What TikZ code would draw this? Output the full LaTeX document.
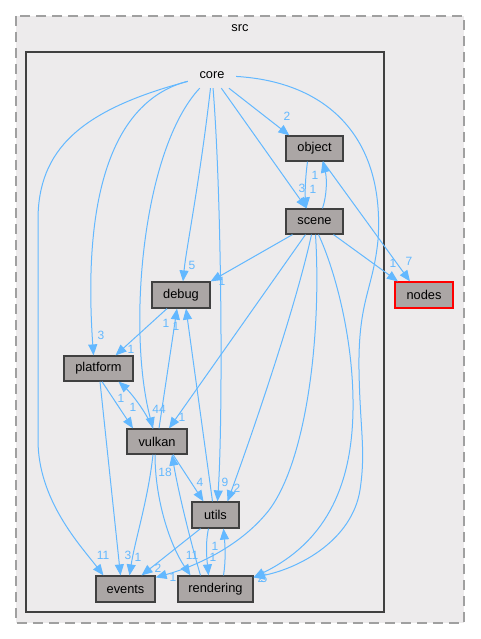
\documentclass[tikz,border=0pt]{standalone}
\usepackage{fontspec}
\setmainfont{Liberation Sans}
\usetikzlibrary{arrows.meta,calc}
\definecolor{edgecol}{HTML}{63B8FF}
\definecolor{boxfill}{HTML}{ABA6A5}
\definecolor{clfill}{HTML}{EDEBEC}
\definecolor{boxline}{HTML}{404040}
\definecolor{dashcol}{HTML}{A0A0A0}
\begin{document}
\begin{tikzpicture}[x=1pt,y=-1pt,
  dirbox/.style={draw=boxline, fill=boxfill, line width=1.2pt, minimum height=25pt, inner sep=0pt, font=\fontsize{12.8}{14}\selectfont},
  edge/.style={draw=edgecol, line width=1pt, -{Triangle[length=11pt,width=9pt]}},
  lbl/.style={text=edgecol, font=\fontsize{12}{13}\selectfont, inner sep=0pt},
  title/.style={font=\fontsize{12.8}{14}\selectfont, inner sep=0pt}]

\fill[white] (0,0) rectangle (480,639);
\useasboundingbox (0,0) rectangle (480,639);
\draw[draw=dashcol, fill=clfill, line width=1.3pt, dash pattern=on 10pt off 6pt] (16,16) rectangle (464,623);
\node[title] (srclbl) at (240,28) {src};
\draw[draw=boxline, fill=clfill, line width=2pt] (26,52) rectangle (384,612);

% nodes
\node[title, minimum width=48pt, minimum height=26pt] (core) at (212,75) {core};
\node[dirbox, minimum width=57pt] (object) at (314.5,148.5) {object};
\node[dirbox, minimum width=57pt] (scene) at (314.5,221.5) {scene};
\node[dirbox, minimum width=58pt, minimum height=26pt, draw=red] (nodes) at (424,295) {nodes};
\node[dirbox, minimum width=58pt, minimum height=26pt] (debug) at (181,295) {debug};
\node[dirbox, minimum width=69pt] (platform) at (98.5,368.5) {platform};
\node[dirbox, minimum width=60pt] (vulkan) at (157,441.5) {vulkan};
\node[dirbox, minimum width=47pt, minimum height=26pt] (utils) at (215.5,515) {utils};
\node[dirbox, minimum width=59pt, minimum height=26pt] (events) at (125.5,589) {events};
\node[dirbox, minimum width=75pt, minimum height=26pt] (rendering) at (215.5,589) {rendering};

% edges from core
\draw[edge] (core) -- ([xshift=4pt]object.north west);
\draw[edge] (core) -- ([xshift=-8pt]scene.north);
\draw[edge] (core) .. controls (200,180) and (186,250) .. ([xshift=2pt]debug.north);
\draw[edge] (core) .. controls (115,100) and (82,190) .. ([xshift=-5pt]platform.north);
\draw[edge] (core) .. controls (80,110) and (38,150) .. (38,220) -- (38,440) .. controls (38,500) and (80,545) .. ([xshift=-22pt]events.north);
\draw[edge] (core) .. controls (142,150) and (127,330) .. ([xshift=-4pt]vulkan.north);
\draw[edge] (core) .. controls (222,200) and (223,420) .. ([xshift=2pt]utils.north);
\draw[edge] (core) .. controls (330,82) and (385,140) .. (378,240) .. controls (373,290) and (358,300) .. (359,370) .. controls (360,430) and (366,450) .. (360,490) .. controls (352,540) and (300,568) .. ([yshift=-2pt]rendering.north east);

% object / scene
\draw[edge] ([xshift=-7pt]object.south) .. controls (305,180) and (305,195) .. ([xshift=-8pt]scene.north);
\draw[edge] ([xshift=8pt]scene.north) .. controls (327,195) and (327,178) .. ([xshift=8pt]object.south);
\draw[edge] ([xshift=8.5pt]object.south) -- ([xshift=-14pt]nodes.north);
\draw[edge] ([xshift=19pt]scene.south) -- ([xshift=-26pt]nodes.north);
\draw[edge] ([xshift=-22pt]scene.south) -- (debug.north east);
\draw[edge] ([xshift=-9pt]scene.south) -- ([xshift=12pt]vulkan.north);
\draw[edge] ([xshift=-3pt]scene.south) .. controls (295,310) and (250,440) .. ([xshift=12pt]utils.north);
\draw[edge] ([xshift=1pt]scene.south) .. controls (322,340) and (305,470) .. (265,515) .. controls (235,550) and (190,568) .. ([yshift=-2pt]events.north east);
\draw[edge] ([xshift=4pt]scene.south) .. controls (335,270) and (354,340) .. (353,410) .. controls (352,480) and (330,540) .. ([yshift=-2pt]rendering.north east);

% debug / platform / vulkan
\draw[edge] ([xshift=-14pt]debug.south) -- ([xshift=17pt]platform.north);
\draw[edge] ([xshift=3.5pt]platform.south) -- ([xshift=-24pt]vulkan.north);
\draw[edge] ([xshift=-4pt]vulkan.north) .. controls (145,410) and (130,392) .. ([xshift=20pt]platform.south);
\draw[edge] ([xshift=2pt]vulkan.north) -- ([xshift=-4pt]debug.south);
\draw[edge] ([xshift=-3pt]utils.north) -- ([xshift=5pt]debug.south);
\draw[edge] ([xshift=1.5pt]platform.south) -- ([xshift=-5pt]events.north);
\draw[edge] ([xshift=-4pt]vulkan.south) .. controls (148,500) and (135,540) .. ([xshift=4pt]events.north);
\draw[edge] ([xshift=-2pt]vulkan.south) .. controls (155,500) and (170,545) .. ([xshift=-25pt]rendering.north);
\draw[edge] ([xshift=-15pt]rendering.north) .. controls (190,540) and (178,490) .. ([xshift=15pt]vulkan.south);
\draw[edge] ([xshift=16pt]vulkan.south) -- ([xshift=-12pt]utils.north);

% utils / rendering / events
\draw[edge] ([xshift=-15pt]utils.south) -- ([xshift=16pt]events.north);
\draw[edge] ([xshift=-7pt]utils.south) .. controls (205,545) and (207,560) .. ([xshift=-7pt]rendering.north);
\draw[edge] ([xshift=8pt]rendering.north) .. controls (226,560) and (225,545) .. ([xshift=8pt]utils.south);

% labels
\node[lbl] (l1) at (287,116) {2};
\node[lbl] (l2) at (302,188) {3};
\node[lbl] (l3) at (313,189) {1};
\node[lbl] (l4) at (315,175) {1};
\node[lbl] (l5) at (409,261) {7};
\node[lbl] (l6) at (393,263) {1};
\node[lbl] (l7) at (192,265) {5};
\node[lbl] (l8) at (222,281) {1};
\node[lbl] (l9) at (101,335) {3};
\node[lbl] (l10) at (131,349) {1};
\node[lbl] (l11) at (166,323) {1};
\node[lbl] (l12) at (176,326) {1};
\node[lbl] (l13) at (159,409) {44};
\node[lbl] (l14) at (182,417) {1};
\node[lbl] (l15) at (121,398) {1};
\node[lbl] (l16) at (133,407) {1};
\node[lbl] (l17) at (165,472) {18};
\node[lbl] (l18) at (200,482) {4};
\node[lbl] (l19) at (225,482) {9};
\node[lbl] (l20) at (237,488) {2};
\node[lbl] (l21) at (103,555) {11};
\node[lbl] (l22) at (128,555) {3};
\node[lbl] (l23) at (138,557) {1};
\node[lbl] (l24) at (158,568) {2};
\node[lbl] (l25) at (173,577) {1};
\node[lbl] (l26) at (192,555) {11};
\node[lbl] (l27) at (215,546) {1};
\node[lbl] (l28) at (213,557) {1};
\node[lbl] (l29) at (261,578) {2};
\node[lbl] (l30) at (264,578) {5};
\end{tikzpicture}
\end{document}
